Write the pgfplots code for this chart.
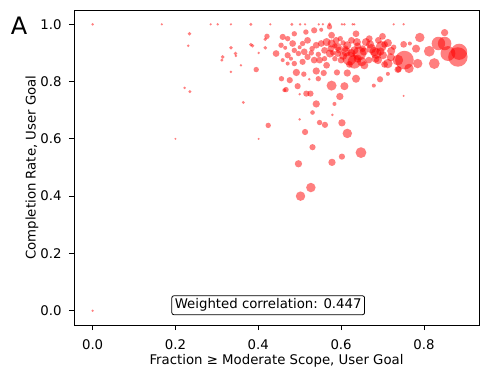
\documentclass[border=0pt]{standalone}
\usepackage{pgfplots}
\pgfplotsset{compat=1.18}
\usepackage{pgfplotstable}
\usepackage{fontspec}
\setmainfont{DejaVu Sans}

% x = fraction >= moderate scope, y = completion rate, r = relative marker radius
\pgfplotstableread{
x y r
0.000 1.000 1.0
0.167 1.000 0.9
0.285 1.000 0.9
0.302 1.000 1.0
0.334 1.000 0.9
0.382 1.000 1.2
0.429 1.000 0.9
0.481 1.000 1.2
0.501 1.000 1.0
0.513 1.000 0.9
0.546 1.000 0.9
0.556 1.000 0.9
0.572 1.000 1.4
0.602 1.000 1.0
0.608 1.000 1.0
0.628 1.000 1.0
0.632 1.000 0.9
0.727 1.000 0.9
0.751 1.000 0.9
0.000 0.000 0.9
0.234 0.967 1.4
0.231 0.925 1.0
0.334 0.918 1.4
0.345 0.898 1.4
0.346 0.890 1.0
0.314 0.886 1.4
0.312 0.875 1.2
0.334 0.834 1.0
0.358 0.857 1.0
0.382 0.929 1.4
0.386 0.925 1.4
0.401 0.900 1.0
0.395 0.842 2.0
0.417 0.948 1.4
0.421 0.958 2.0
0.417 0.918 1.4
0.222 0.778 1.0
0.235 0.765 1.2
0.364 0.727 1.2
0.200 0.600 0.8
0.401 0.600 0.8
0.424 0.647 2.0
0.502 0.400 3.5
0.527 0.430 3.5
0.497 0.513 2.7
0.578 0.518 2.7
0.602 0.538 2.3
0.648 0.552 4.0
0.531 0.571 2.3
0.615 0.619 3.5
0.513 0.624 2.3
0.602 0.656 2.7
0.548 0.657 2.0
0.561 0.649 2.3
0.500 0.668 1.0
0.531 0.692 1.7
0.579 0.684 1.0
0.540 0.722 2.7
0.584 0.722 1.5
0.597 0.748 2.7
0.577 0.786 3.7
0.608 0.784 3.0
0.636 0.810 3.0
0.694 0.808 2.3
0.679 0.786 1.5
0.751 0.750 0.8
0.516 0.758 2.3
0.526 0.758 2.3
0.500 0.756 1.0
0.495 0.784 2.3
0.467 0.772 2.0
0.463 0.770 1.5
0.476 0.805 2.3
0.456 0.810 2.0
0.492 0.832 2.7
0.510 0.826 2.0
0.545 0.810 2.0
0.523 0.808 1.0
0.558 0.830 2.3
0.540 0.837 2.7
0.590 0.832 2.3
0.615 0.830 2.7
0.713 0.827 1.5
0.739 0.843 2.3
0.882 0.886 7.2
0.885 0.904 6.0
0.858 0.898 5.5
0.835 0.933 5.0
0.850 0.933 5.0
0.813 0.906 4.0
0.825 0.863 4.0
0.785 0.863 3.5
0.790 0.954 3.5
0.850 0.971 2.7
0.781 0.915 3.0
0.753 0.875 6.9
0.764 0.846 3.5
0.737 0.875 4.0
0.737 0.842 2.5
0.766 0.933 1.5
0.751 0.930 2.5
0.721 0.907 3.0
0.713 0.935 3.0
0.700 0.958 2.5
0.697 0.923 4.0
0.713 0.863 3.5
0.689 0.875 3.0
0.685 0.898 4.0
0.673 0.915 3.5
0.660 0.938 3.0
0.656 0.857 3.0
0.636 0.967 2.5
0.638 0.938 3.0
0.644 0.898 5.0
0.632 0.869 5.0
0.620 0.880 5.0
0.612 0.904 3.5
0.615 0.927 3.0
0.592 0.921 3.0
0.588 0.944 2.5
0.577 0.962 2.5
0.565 0.938 3.0
0.573 0.898 3.0
0.560 0.909 2.5
0.565 0.857 2.5
0.600 0.875 2.5
0.548 0.875 2.5
0.552 0.933 2.5
0.535 0.979 2.3
0.552 0.981 1.5
0.572 0.991 2.0
0.515 0.973 2.0
0.519 0.944 2.5
0.507 0.933 2.0
0.540 0.927 2.5
0.511 0.904 2.5
0.535 0.875 2.5
0.519 0.886 2.3
0.507 0.869 2.3
0.487 0.967 2.0
0.483 0.933 2.5
0.471 0.950 2.0
0.459 0.956 2.3
0.455 0.927 2.0
0.443 0.898 2.5
0.471 0.892 2.3
0.459 0.875 1.5
0.479 0.880 1.5
0.487 0.863 2.0
0.497 0.898 2.0
0.471 0.863 1.5
0.487 0.909 2.0
0.667 0.875 2.5
0.683 0.880 3.0
0.701 0.892 3.0
0.592 0.898 2.5
0.577 0.933 3.0
0.632 0.909 3.0
0.652 0.915 2.5
0.625 0.944 2.5
0.598 0.950 2.0
0.668 0.950 2.5
0.690 0.944 2.5
0.727 0.920 2.0
0.605 0.890 3.0
0.585 0.880 2.0
0.560 0.880 2.0
0.528 0.900 2.0
0.500 0.920 1.5
0.465 0.918 1.5
0.595 0.910 2.5
0.610 0.915 2.5
0.625 0.900 3.0
0.640 0.925 2.5
0.655 0.905 3.0
0.670 0.930 3.0
0.680 0.905 3.5
0.695 0.905 3.0
0.705 0.930 2.5
0.575 0.915 2.5
0.585 0.925 2.0
0.605 0.935 2.0
0.640 0.880 3.0
0.650 0.870 3.5
0.620 0.860 2.5
0.580 0.900 2.0
0.545 0.895 2.0
0.530 0.915 2.0
0.720 0.885 3.0
0.705 0.860 2.5
}\scopedata

\begin{document}
\begin{tikzpicture}
\begin{axis}[
    name=ax,
    at={(0,0)}, anchor=south west,
    scale only axis,
    width=405pt, height=315pt,
    xmin=-0.045, xmax=0.933,
    ymin=-0.05, ymax=1.05,
    xtick={0,0.2,0.4,0.6,0.8},
    ytick={0,0.2,0.4,0.6,0.8,1.0},
    xticklabel style={yshift=-6pt, /pgf/number format/.cd, fixed, fixed zerofill, precision=1},
    yticklabel style={xshift=-4pt, /pgf/number format/.cd, fixed, fixed zerofill, precision=1},
    /pgf/number format/assume math mode=true,
    tick label style={font=\fontsize{13.3}{15}\selectfont},
    label style={font=\fontsize{13.3}{15}\selectfont},
    tick align=outside,
    major tick length=5pt,
    xtick pos=bottom, ytick pos=left,
    axis line style={line width=0.8pt},
    every tick/.style={black, line width=0.8pt},
    xlabel={Fraction ≥ Moderate Scope, User Goal},
    ylabel={Completion Rate, User Goal},
    xlabel style={yshift=2pt},
    ylabel style={yshift=-5pt},
]
\addplot[
    scatter, only marks, mark=*,
    scatter/use mapped color={draw=red, draw opacity=0, fill=red, fill opacity=0.5},
    mark options={line width=0pt},
    visualization depends on={\thisrow{r} \as \rad},
    scatter/@pre marker code/.append style={/tikz/mark size=1.35*\rad},
] table[x=x, y=y] {\scopedata};
\node[draw=black, fill=white, rounded corners=2pt, line width=0.8pt,
      inner xsep=3pt, inner ysep=3pt, font=\fontsize{13.3}{15}\selectfont]
      at (axis cs:0.424,0.019) {Weighted correlation: 0.447};
\end{axis}
\node[font=\fontsize{24}{27}\selectfont] at (-55pt,299pt) {A};
\path[use as bounding box] (-74pt,-51pt) rectangle (414pt,325pt);
\end{tikzpicture}
\end{document}
